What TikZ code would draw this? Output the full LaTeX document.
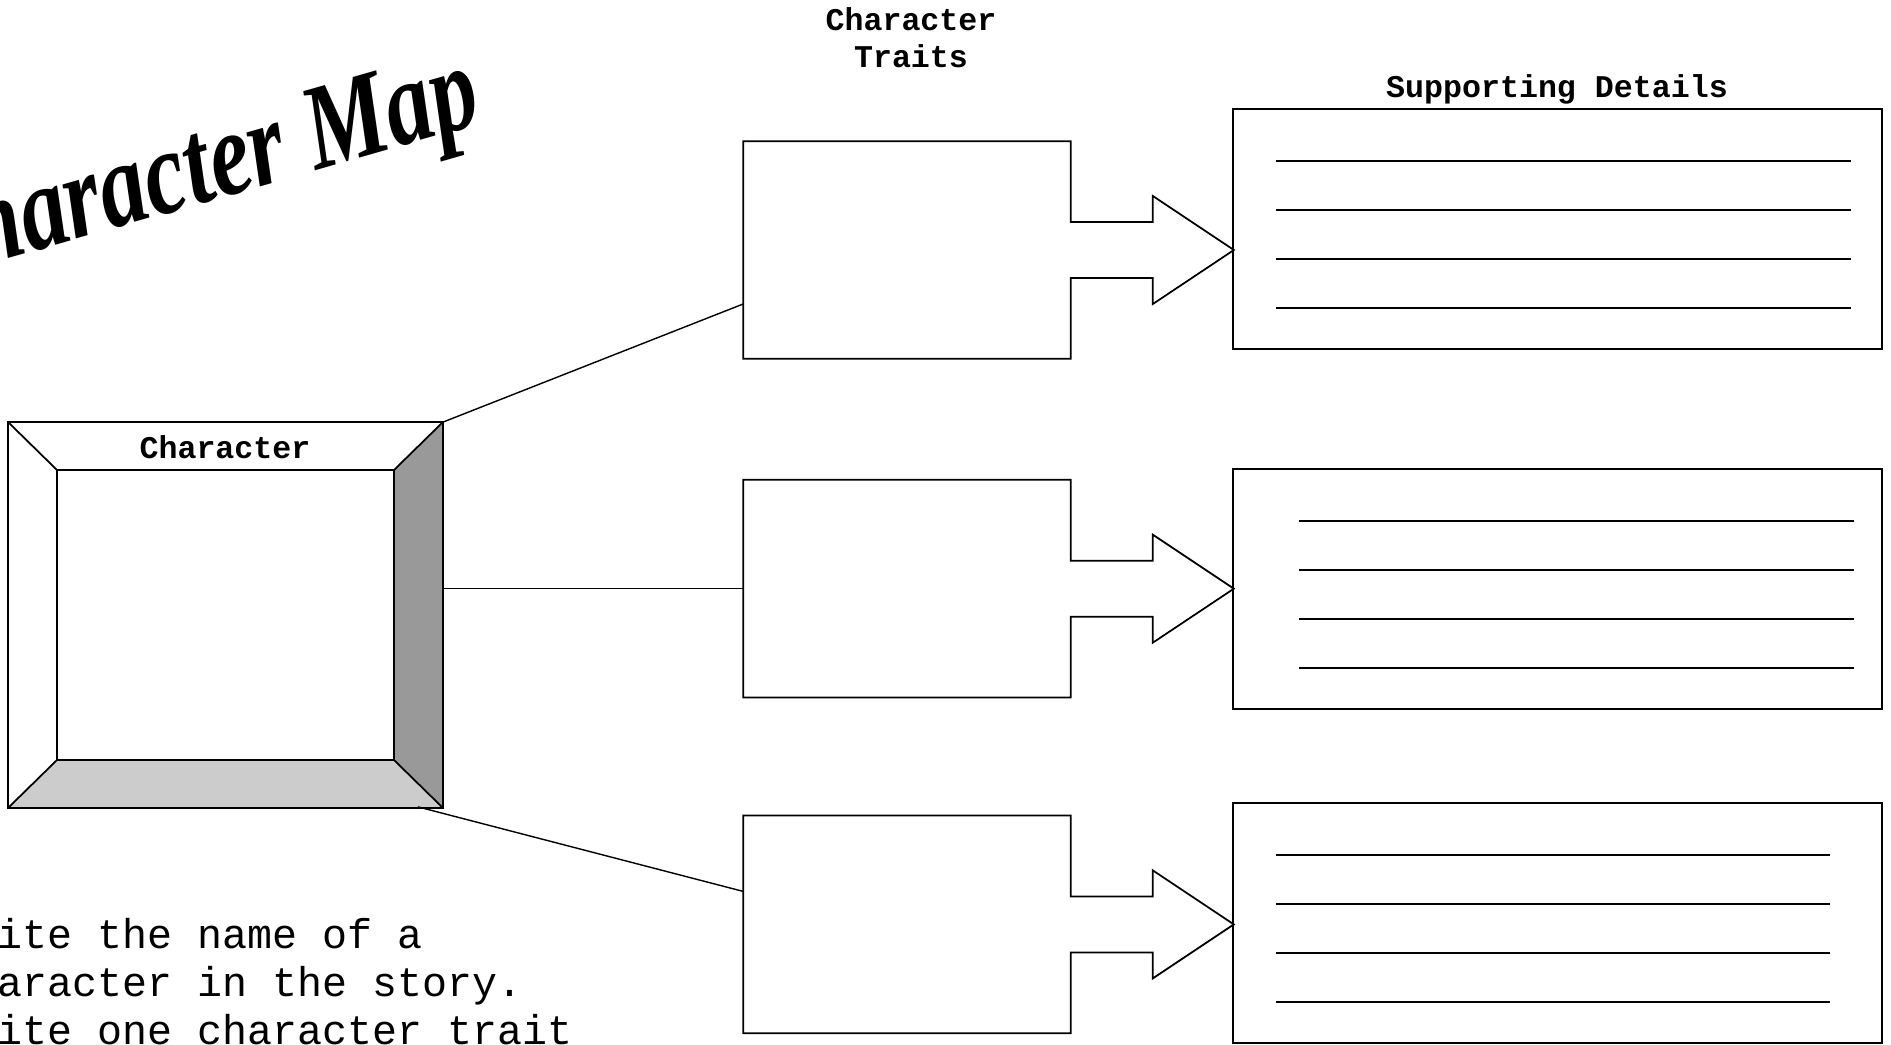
\documentclass[tikz,border=0pt]{standalone}
\usepackage{fontspec}
\setmonofont{Liberation Mono}
\newfontfamily\titlefont{Liberation Serif}
\usetikzlibrary{positioning,calc}
\definecolor{bevelside}{HTML}{999999}
\definecolor{bevelfloor}{HTML}{CCCCCC}

\begin{document}
\begin{tikzpicture}[
  x=0.02cm, y=-0.02cm, line width=1pt,
  heading/.style={font=\ttfamily\bfseries\fontsize{18}{21}\selectfont, align=center, inner sep=0pt},
  traitbox/.style={minimum width=6.52cm, minimum height=4.32cm, inner sep=0pt},
  detailbox/.style={draw, minimum width=12.98cm, minimum height=4.8cm, inner sep=0pt},
  rule/.style={line width=1.3pt},
  link/.style={line width=0.8pt}
]
\useasboundingbox (0,0) rectangle (1891,1045);
\clip (0,0) rectangle (1891,1045);

% title
\node[font=\titlefont\bfseries\itshape\fontsize{53}{60}\selectfont, anchor=base east, inner sep=0pt,
  rotate=16, yscale=1.3] (title) at (486,122) {haracter Map};

% character frame
\node[minimum width=8.66cm, minimum height=7.68cm, inner sep=0pt] (frame) at (225.5,615) {};
\node[minimum width=6.7cm, minimum height=5.76cm, inner sep=0pt] (photo) at (225.5,615) {};
\fill[bevelside] (frame.north east) -- (frame.south east) -- (photo.south east) -- (photo.north east) -- cycle;
\fill[bevelfloor] (frame.south west) -- (frame.south east) -- (photo.south east) -- (photo.south west) -- cycle;
\draw (frame.north west) rectangle (frame.south east);
\draw (photo.north west) rectangle (photo.south east);
\draw (frame.north west) -- (photo.north west);
\draw (frame.north east) -- (photo.north east);
\draw (frame.south west) -- (photo.south west);
\draw (frame.south east) -- (photo.south east);
\node[heading, anchor=base] (charlabel) at (225,458) {Character};

% trait boxes with arrows
\node[traitbox] (trait1) at (907,250) {};
\node[traitbox, below=2.42cm of trait1] (trait2) {};
\node[traitbox, below=2.36cm of trait2] (trait3) {};
\foreach \t in {trait1,trait2,trait3}{
  \draw (\t.north west) -- (\t.north east) -- ($(\t.east)+(0,-28)$) -- ++(82,0) -- ++(0,-26)
    -- ($(\t.east)+(163,0)$) -- ++(-81,54) -- ++(0,-26) -- ++(-82,0)
    -- (\t.south east) -- (\t.south west) -- cycle;
}
\node[heading] (traitlabel) at (911,38) {Character\\Traits};

% supporting details
\node[detailbox] (detail1) at (1557.5,229) {};
\node[detailbox] (detail2) at (1557.5,589) {};
\node[detailbox] (detail3) at (1557.5,923) {};
\node[heading, anchor=base] (detaillabel) at (1557,97) {Supporting Details};
\foreach \d/\a/\b in {detail1/44/619, detail2/67/622, detail3/44/598}{
  \foreach \k in {0,...,3}{
    \draw[rule] ($(\d.north west)+(\a,53+49*\k)$) -- ($(\d.north west)+(\b,53+49*\k)$);
  }
}

% connectors
\draw[link] (frame.north east) -- ($(trait1.west)+(0,54)$);
\draw[link] (frame.east |- trait2.west) -- (trait2.west);
\draw[link] ($(frame.south east)+(-25,-1)$) -- ($(trait3.west)+(0,-33)$);

% instructions
\node[font=\ttfamily\fontsize{23.7}{27.2}\selectfont, align=left, anchor=base west, inner sep=0pt]
  (howto) at (-3,1044) {ite the name of a\\aracter in the story.\\ite one character trait};
\end{tikzpicture}
\end{document}
